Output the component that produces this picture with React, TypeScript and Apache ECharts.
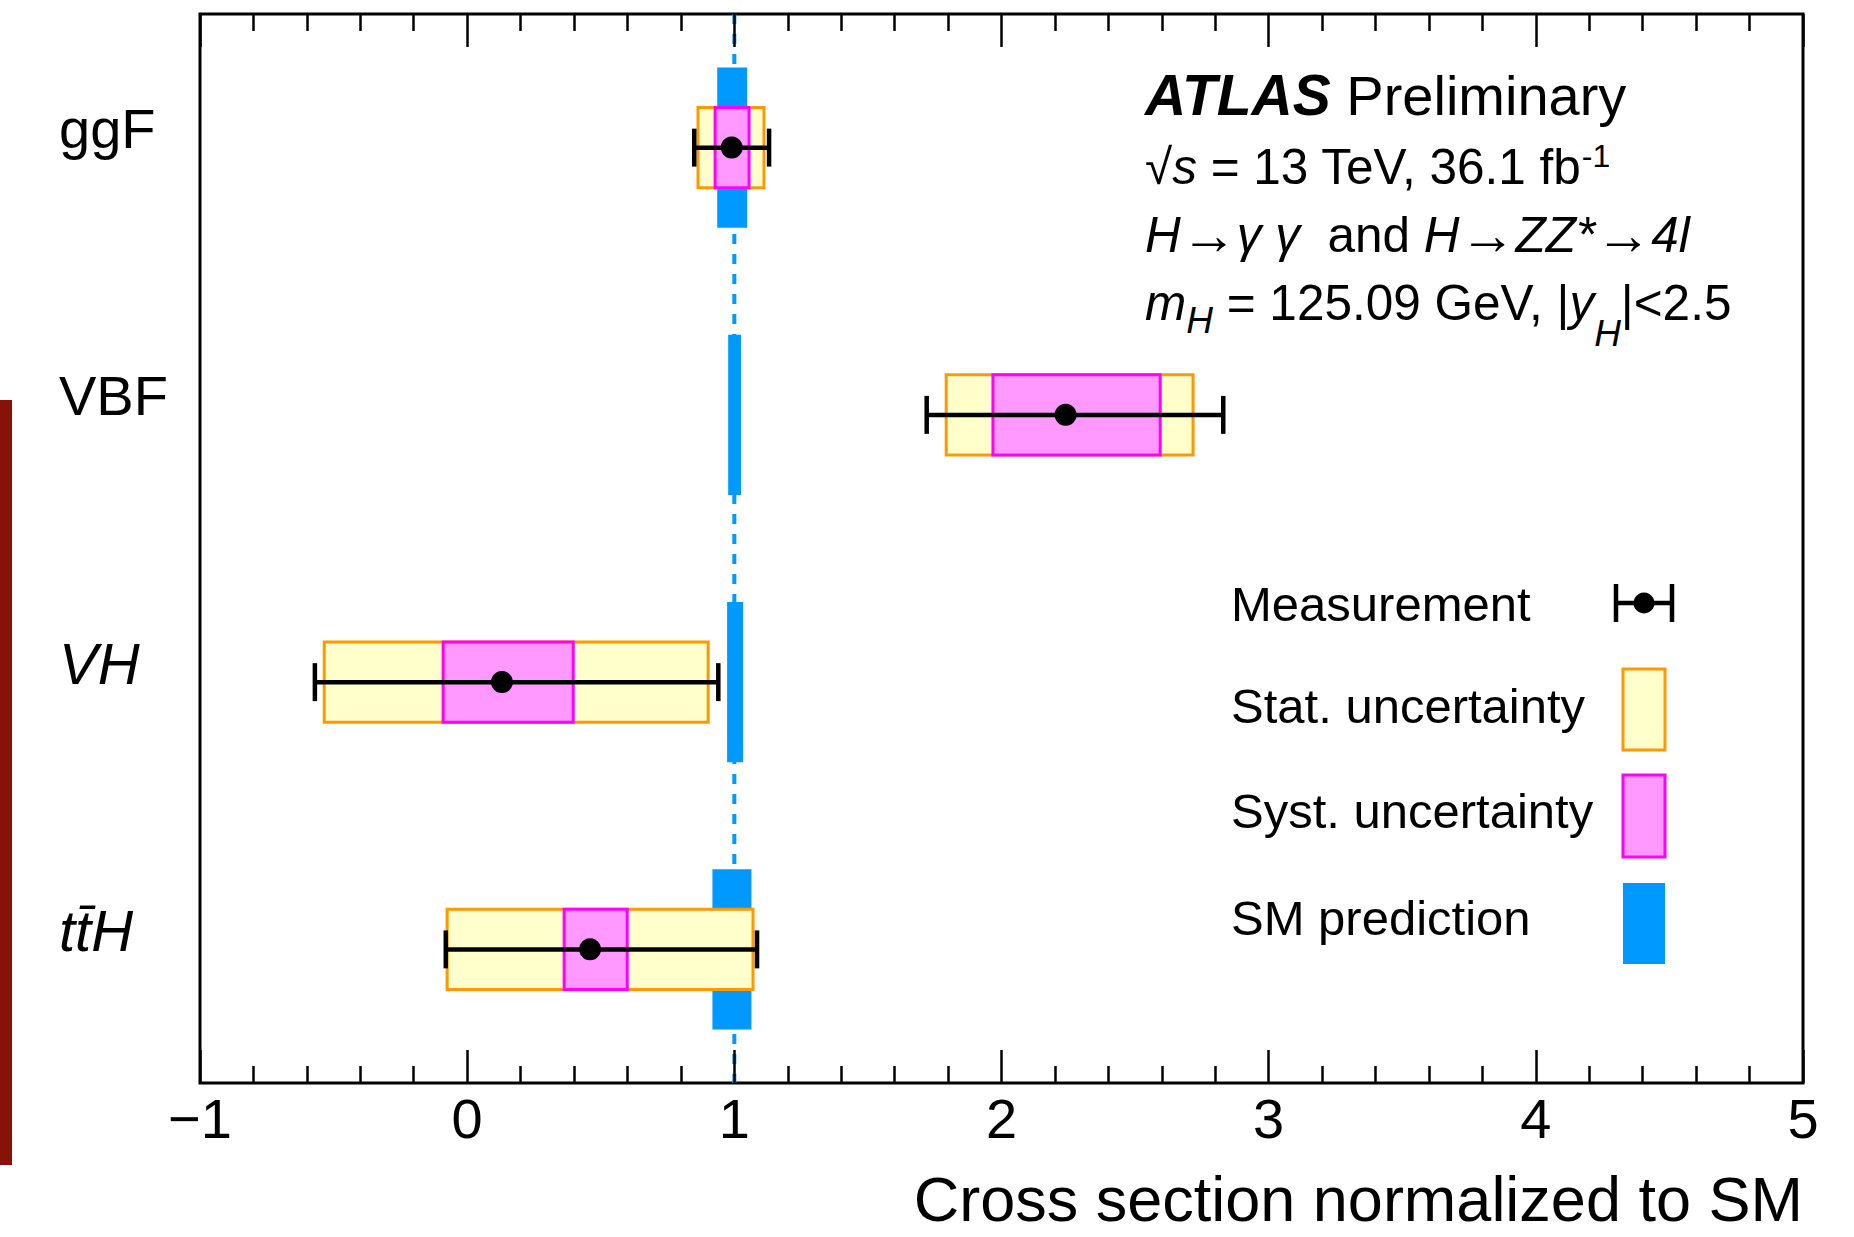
import React, { useEffect, useRef } from 'react';
import * as echarts from 'echarts';

const FONT = '"Liberation Sans", Arial, Helvetica, "DejaVu Sans", sans-serif';

// ---- data ----
const categories = ['ggF', 'VBF', 'VH', 'tt\u0304H'];
const italicCategory = [false, false, true, true];
const measurement = [0.99, 2.24, 0.13, 0.46];
const totalLow = [0.85, 1.72, -0.57, -0.08];
const totalHigh = [1.13, 2.83, 0.94, 1.085];
const statLow = [0.864, 1.793, -0.535, -0.075];
const statHigh = [1.111, 2.717, 0.902, 1.07];
const systLow = [0.928, 1.968, -0.09, 0.363];
const systHigh = [1.055, 2.594, 0.397, 0.599];
const smLow = [0.936, 0.977, 0.973, 0.918];
const smHigh = [1.048, 1.025, 1.033, 1.064];
const smReference = [1];
const xTickValues = [-1, 0, 1, 2, 3, 4, 5];

// ---- colours ----
const SM_BLUE = '#0099ff';
const STAT_FILL = '#ffffcc';
const STAT_EDGE = '#ff9900';
const SYST_FILL = '#ff99ff';
const SYST_EDGE = '#ff00ff';

function boxSeries(lo: number[], hi: number[], frac: number, fill: string, stroke: string | null, z: number) {
  return {
    type: 'custom',
    z,
    xAxisIndex: 0,
    yAxisIndex: 0,
    encode: { x: [0, 2], y: 1 },
    data: categories.map((_, i) => [lo[i], i, hi[i]]),
    renderItem: (params: any, api: any) => {
      const a = api.coord([api.value(0), api.value(1)]);
      const b = api.coord([api.value(2), api.value(1)]);
      const band = api.size([0, 1])[1];
      const h = band * frac;
      return {
        type: 'rect',
        shape: { x: a[0], y: a[1] - h / 2, width: b[0] - a[0], height: h },
        style: stroke ? { fill, stroke, lineWidth: 3 } : { fill },
      };
    },
  };
}

export default function App() {
  const ref = useRef<HTMLDivElement>(null);
  useEffect(() => {
    if (!ref.current) return;
    const chart = echarts.init(ref.current, undefined, { renderer: 'svg' });

    const xAxisCommon = {
      type: 'value',
      min: xTickValues[0],
      max: xTickValues[xTickValues.length - 1],
      interval: 1,
      z: 10,
      axisLine: { show: false },
      splitLine: { show: false },
      minorSplitLine: { show: false },
      axisTick: { show: true, inside: true, length: 33, lineStyle: { color: '#000', width: 2.5 } },
      minorTick: { show: true, splitNumber: 5, length: 17, lineStyle: { color: '#000', width: 2.5 } },
    };

    const textBase = { fontFamily: FONT, fill: '#000' };
    const LINE_FONT = 49.5;
    const LEG_FONT = 49;

    const option: any = {
      animation: false,
      backgroundColor: '#ffffff',
      grid: {
        left: 200,
        right: 51,
        top: 14,
        bottom: 154,
        show: true,
        borderColor: '#000',
        borderWidth: 3,
        backgroundColor: 'transparent',
      },
      xAxis: [
        {
          ...xAxisCommon,
          position: 'bottom',
          axisLabel: {
            show: true,
            showMinLabel: true,
            showMaxLabel: true,
            margin: 7,
            fontSize: 56,
            fontFamily: FONT,
            color: '#000',
            formatter: (v: number) => (v < 0 ? '\u2212' + Math.abs(v) : String(v)),
          },
        },
        {
          ...xAxisCommon,
          position: 'top',
          axisLabel: { show: false },
        },
      ],
      yAxis: {
        type: 'category',
        data: categories,
        inverse: true,
        axisLine: { show: false },
        axisTick: { show: false },
        splitLine: { show: false },
        axisLabel: {
          align: 'left',
          margin: 141,
          formatter: (v: string, i: number) => (italicCategory[i] ? `{i|${v}}` : `{n|${v}}`),
          rich: {
            n: { fontSize: 56, fontFamily: FONT, color: '#000', padding: [0, 0, 38, 0] },
            i: { fontSize: 58, fontFamily: FONT, fontStyle: 'italic', color: '#000', padding: [0, 0, 38, 0] },
          },
        },
      },
      series: [
        {
          type: 'custom',
          z: 1,
          encode: { x: 0, y: 1 },
          data: smReference.map((v) => [v, 0]),
          renderItem: (params: any, api: any) => {
            const cs = params.coordSys;
            const x = api.coord([api.value(0), 0])[0];
            return {
              type: 'line',
              shape: { x1: x, y1: cs.y, x2: x, y2: cs.y + cs.height },
              style: { stroke: SM_BLUE, lineWidth: 4, lineDash: [10, 10] },
            };
          },
        },
        boxSeries(smLow, smHigh, 0.6, SM_BLUE, null, 2),
        boxSeries(statLow, statHigh, 0.3, STAT_FILL, STAT_EDGE, 3),
        boxSeries(systLow, systHigh, 0.3, SYST_FILL, SYST_EDGE, 4),
        {
          type: 'custom',
          z: 5,
          encode: { x: [0, 2, 3], y: 1 },
          data: categories.map((_, i) => [measurement[i], i, totalLow[i], totalHigh[i]]),
          renderItem: (params: any, api: any) => {
            const cat = api.value(1);
            const c = api.coord([api.value(0), cat]);
            const l = api.coord([api.value(2), cat]);
            const h = api.coord([api.value(3), cat]);
            const band = api.size([0, 1])[1];
            const cap = (band * 0.142) / 2;
            const st = { stroke: '#000', lineWidth: 4.5 };
            return {
              type: 'group',
              children: [
                { type: 'line', shape: { x1: l[0], y1: c[1], x2: h[0], y2: c[1] }, style: st },
                { type: 'line', shape: { x1: l[0], y1: c[1] - cap, x2: l[0], y2: c[1] + cap }, style: st },
                { type: 'line', shape: { x1: h[0], y1: c[1] - cap, x2: h[0], y2: c[1] + cap }, style: st },
                { type: 'circle', shape: { cx: c[0], cy: c[1], r: 11 }, style: { fill: '#000' } },
              ],
            };
          },
        },
      ],
      graphic: {
        elements: [
          // left dark red strip
          { type: 'rect', left: 0, top: 400, shape: { width: 12, height: 765 }, style: { fill: '#86130a' } },
          // axis title
          {
            type: 'text',
            x: 1803,
            y: 1199,
            style: {
              ...textBase,
              text: 'Cross section normalized to SM',
              fontSize: 63,
              align: 'right',
              verticalAlign: 'middle',
            },
          },
          // ATLAS label block
          {
            type: 'text',
            x: 1145,
            y: 95,
            style: {
              ...textBase,
              text: '{b|ATLAS}{n| Preliminary}',
              verticalAlign: 'middle',
              rich: {
                b: { fontSize: 57, fontFamily: FONT, fontWeight: 'bold', fontStyle: 'italic' },
                n: { fontSize: 56, fontFamily: FONT },
              },
            },
          },
          {
            type: 'text',
            x: 1145,
            y: 166,
            style: {
              ...textBase,
              text: '{n|\u221A}{it|s}{n| = 13 TeV, 36.1 fb}{sup|-1}',
              verticalAlign: 'middle',
              rich: {
                n: { fontSize: LINE_FONT, fontFamily: FONT },
                it: { fontSize: LINE_FONT, fontFamily: FONT, fontStyle: 'italic' },
                sup: { fontSize: 32, fontFamily: FONT, padding: [0, 0, 20, 0] },
              },
            },
          },
          {
            type: 'text',
            x: 1145,
            y: 234,
            style: {
              ...textBase,
              text: '{it|H}{ar|\u2192}{it|\u03B3 \u03B3}{n|  and }{it|H}{ar|\u2192}{it|ZZ*}{ar|\u2192}{it|4l}',
              verticalAlign: 'middle',
              rich: {
                n: { fontSize: LINE_FONT, fontFamily: FONT },
                ar: { fontSize: 56, fontFamily: FONT },
                it: { fontSize: LINE_FONT, fontFamily: FONT, fontStyle: 'italic' },
              },
            },
          },
          {
            type: 'text',
            x: 1145,
            y: 302,
            style: {
              ...textBase,
              text: '{it|m}{sub|H}{n| = 125.09 GeV, |}{it|y}{sub2|H}{n||<2.5}',
              verticalAlign: 'middle',
              rich: {
                n: { fontSize: LINE_FONT, fontFamily: FONT },
                it: { fontSize: LINE_FONT, fontFamily: FONT, fontStyle: 'italic' },
                sub: { fontSize: 37, fontFamily: FONT, fontStyle: 'italic', padding: [36, 0, 0, 0] },
                sub2: { fontSize: 37, fontFamily: FONT, fontStyle: 'italic', padding: [62, 0, 0, 0] },
              },
            },
          },
          // legend
          { type: 'text', x: 1231, y: 604, style: { ...textBase, text: 'Measurement', fontSize: LEG_FONT, verticalAlign: 'middle' } },
          { type: 'line', shape: { x1: 1616, y1: 603, x2: 1672, y2: 603 }, style: { stroke: '#000', lineWidth: 4.5 } },
          { type: 'line', shape: { x1: 1616, y1: 584, x2: 1616, y2: 622 }, style: { stroke: '#000', lineWidth: 4.5 } },
          { type: 'line', shape: { x1: 1672, y1: 584, x2: 1672, y2: 622 }, style: { stroke: '#000', lineWidth: 4.5 } },
          { type: 'circle', shape: { cx: 1644, cy: 603, r: 10.5 }, style: { fill: '#000' } },
          { type: 'text', x: 1231, y: 706, style: { ...textBase, text: 'Stat. uncertainty', fontSize: LEG_FONT, verticalAlign: 'middle' } },
          { type: 'rect', shape: { x: 1623, y: 669, width: 42, height: 81 }, style: { fill: STAT_FILL, stroke: STAT_EDGE, lineWidth: 3 } },
          { type: 'text', x: 1231, y: 811, style: { ...textBase, text: 'Syst. uncertainty', fontSize: LEG_FONT, verticalAlign: 'middle' } },
          { type: 'rect', shape: { x: 1623, y: 775, width: 42, height: 82 }, style: { fill: SYST_FILL, stroke: SYST_EDGE, lineWidth: 3 } },
          { type: 'text', x: 1231, y: 918, style: { ...textBase, text: 'SM prediction', fontSize: LEG_FONT, verticalAlign: 'middle' } },
          { type: 'rect', shape: { x: 1623, y: 883, width: 42, height: 81 }, style: { fill: SM_BLUE } },
        ],
      },
    };

    chart.setOption(option);
    return () => chart.dispose();
  }, []);

  return (
    <div
      ref={ref}
      style={{ position: 'fixed', left: 0, top: 0, width: 1854, height: 1237, background: '#fff' }}
    />
  );
}
